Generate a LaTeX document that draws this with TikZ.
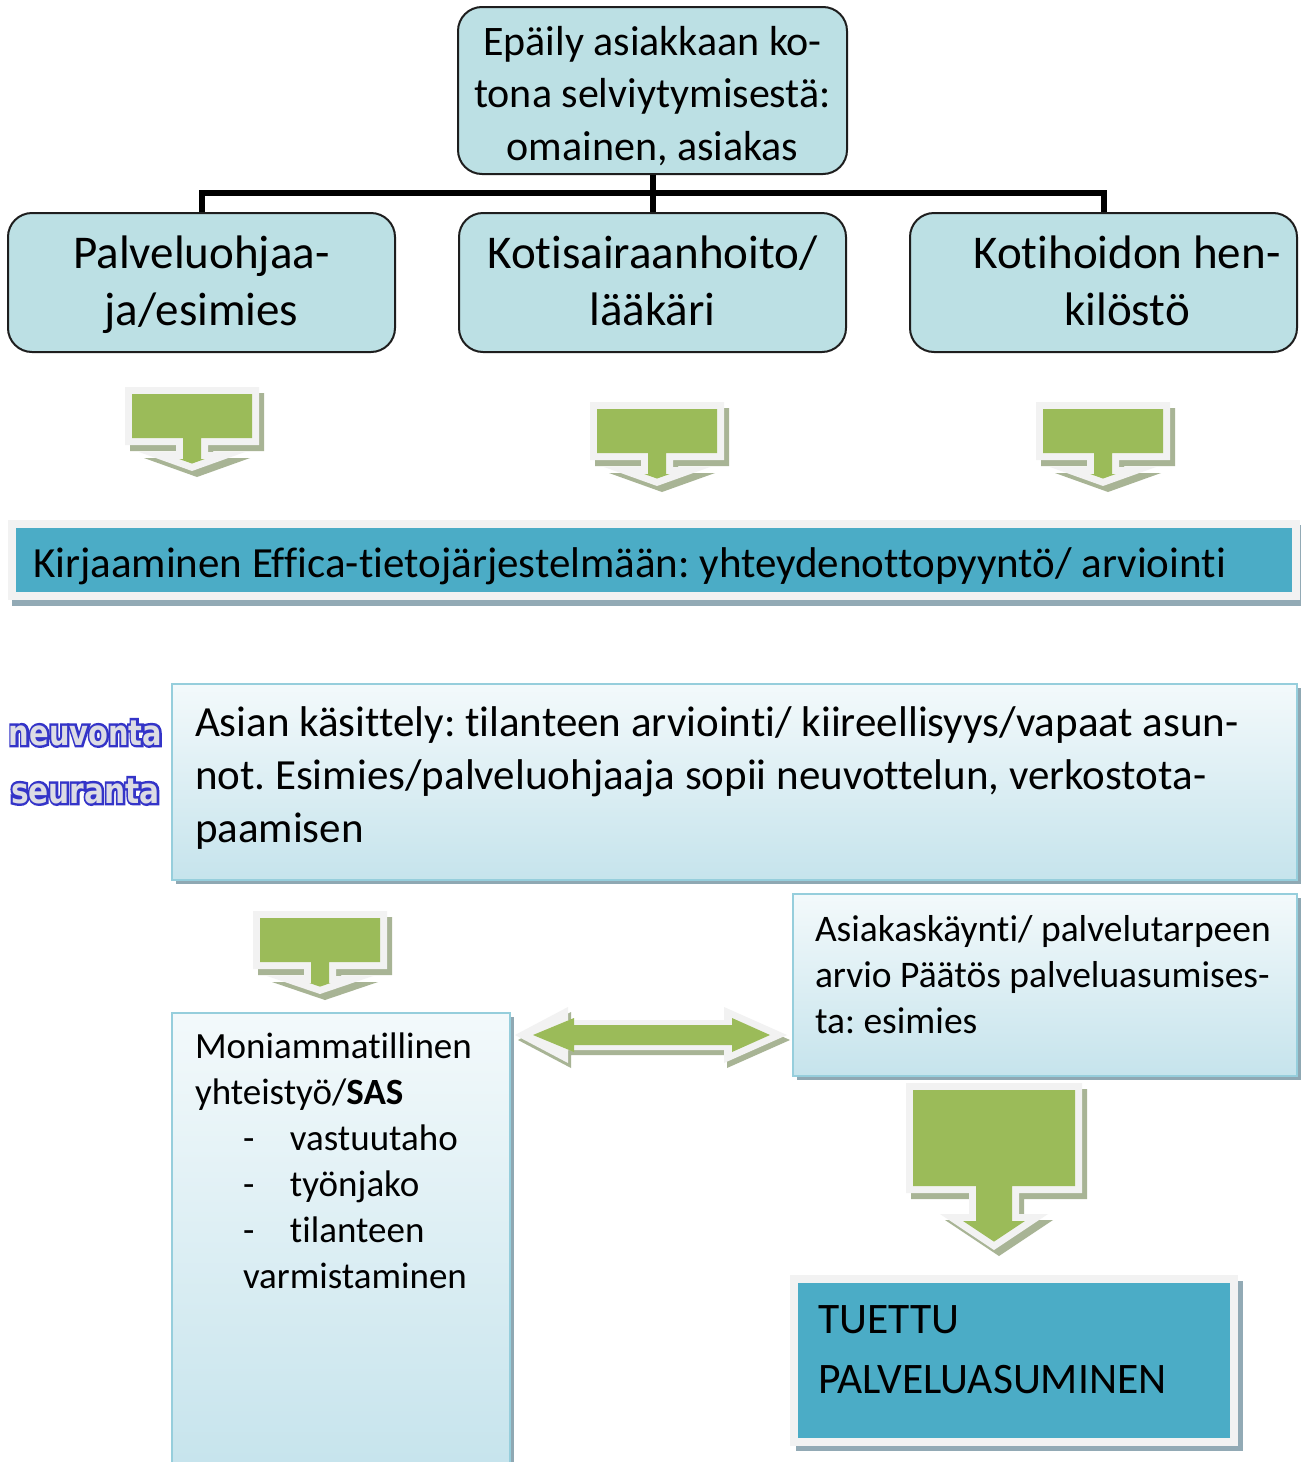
\documentclass[tikz,border=0pt]{standalone}
\usepackage{fontspec}
\setmainfont{Carlito}[Ligatures={NoCommon}]
\newfontfamily\wafont{DejaVu Sans Bold}
\newfontfamily\waout{DejaVu Sans Bold}[FakeBold=14]
\usepackage{graphicx}
\usetikzlibrary{shadows}
\definecolor{boxteal}{HTML}{BCE0E4}
\definecolor{boxedge}{HTML}{1E1E1E}
\definecolor{arrgreen}{HTML}{9BBB59}
\definecolor{greyframe}{HTML}{F2F2F2}
\definecolor{arrshadow}{HTML}{A8B495}
\definecolor{bannerblue}{HTML}{4BACC6}
\definecolor{bannershadow}{HTML}{92AAB5}
\definecolor{gradblue}{HTML}{B6DCE7}
\definecolor{gradborder}{HTML}{96CEDC}
\definecolor{boxshadow}{HTML}{8FA8B3}
\definecolor{wablue}{HTML}{3434C8}
\definecolor{wagrey}{HTML}{DCDCE4}
\pgfdeclareverticalshading{gb}{100bp}{color(0bp)=(gradblue); color(8bp)=(gradblue); color(88bp)=(white); color(100bp)=(white)}
\tikzset{
  rbox/.style={draw=boxedge, line width=2pt, fill=boxteal, rounded corners=24pt, inner sep=0pt},
  gbox/.style={draw=gradborder, line width=2pt, shade, shading=gb, inner sep=0pt,
    drop shadow={shadow xshift=4pt, shadow yshift=-4pt, fill=boxshadow, opacity=1}},
  frame/.style={draw=greyframe, line width=8pt, fill=bannerblue, inner sep=0pt},
  txt/.style={inner sep=0pt, outer sep=0pt, text=black},
  conn/.style={draw=black, line width=6pt}
}
\newcommand{\wordart}[2]{\scalebox{#1}[1.35]{\fontsize{26pt}{30pt}\selectfont
  \rlap{\color{wablue}\waout #2}{\color{wagrey}\wafont #2}}}
% block arrow: cx, W, top, rect bottom, head line, tip, stem half, head half
\newcommand{\calarrow}[8]{%
  \pgfmathsetmacro\cad{7/sin(atan(#8/(#6-#5)))}%
  \pgfmathsetmacro\cap{#6-\cad}%
  \pgfmathsetmacro\cah{(\cap-#5-7)*#8/(#6-#5)}%
  \fill[arrshadow, shift={(5,6)}] ({#1-#2},#3) -- ({#1+#2},#3) -- ({#1+#2},#4) -- ({#1+#7},#4) -- ({#1+#7},#5) -- ({#1+#8},#5) -- (#1,#6) -- ({#1-#8},#5) -- ({#1-#7},#5) -- ({#1-#7},#4) -- ({#1-#2},#4) -- cycle;
  \fill[greyframe] ({#1-#2},#3) -- ({#1+#2},#3) -- ({#1+#2},#4) -- ({#1+#7},#4) -- ({#1+#7},#5) -- ({#1+#8},#5) -- (#1,#6) -- ({#1-#8},#5) -- ({#1-#7},#5) -- ({#1-#7},#4) -- ({#1-#2},#4) -- cycle;
  \fill[arrgreen] ({#1-#2+7},{#3+7}) -- ({#1+#2-7},{#3+7}) -- ({#1+#2-7},{#4-7}) -- ({#1+#7-7},{#4-7}) -- ({#1+#7-7},{#5+7}) -- ({#1+\cah},{#5+7}) -- (#1,\cap) -- ({#1-\cah},{#5+7}) -- ({#1-#7+7},{#5+7}) -- ({#1-#7+7},{#4-7}) -- ({#1-#2+7},{#4-7}) -- cycle;
}
\frenchspacing
\begin{document}
\frenchspacing
\begin{tikzpicture}[x=1pt,y=-1pt]
\useasboundingbox[fill=white] (0,0) rectangle (1301,1462);

% top structure
\node[rbox, minimum width=389pt, minimum height=167pt] (top) at (652.5,90.5) {};
\node[rbox, minimum width=387pt, minimum height=139pt] (b1) at (201.5,282.5) {};
\node[rbox, minimum width=387pt, minimum height=139pt] (b2) at (652.5,282.5) {};
\node[rbox, minimum width=387pt, minimum height=139pt] (b3) at (1103.5,282.5) {};
\coordinate (j) at (652.5,193);
\draw[conn] (top.south) -- (b2.north);
\draw[conn] (b1.north) |- (j) -| (b3.north);

\node[txt, anchor=north, align=center, font=\fontsize{42pt}{52.5pt}\selectfont] (toptxt) at (652.5,13)
  {\rule{0pt}{42pt}Epäily asiakkaan ko-\\tona selviytymisestä:\\omainen, asiakas};
\node[txt, anchor=north, align=center, font=\fontsize{47pt}{57pt}\selectfont] (b1txt) at (201.5,221)
  {\rule{0pt}{47pt}Palveluohjaa-\\ja/esimies};
\node[txt, anchor=north, align=center, font=\fontsize{47pt}{57pt}\selectfont] (b2txt) at (652.5,221)
  {\rule{0pt}{47pt}Kotisairaanhoito/\\lääkäri};
\node[txt, anchor=north, align=center, font=\fontsize{47pt}{57pt}\selectfont] (b3txt) at (1127,221)
  {\rule{0pt}{47pt}Kotihoidon hen-\\kilöstö};

% block arrows
\calarrow{192}{67}{387}{445}{452}{471}{16}{53}
\calarrow{657}{67}{402}{460}{467}{486}{16}{53}
\calarrow{1103}{67}{402}{460}{467}{486}{16}{53}

% banner
\fill[bannershadow] (12,525) rectangle (1305,606);
\node[frame, minimum width=1284pt, minimum height=72pt] (ban) at (654,560) {};
\node[txt, anchor=base west, font=\fontsize{43pt}{50pt}\selectfont] (bantxt) at (33,577)
  {Kirjaaminen Effica-tietojärjestelmään: yhteydenottopyyntö/ arviointi};

% word art
\node[txt, anchor=base west] (neu) at (9,745) {\wordart{1.11}{neuvonta}};
\node[txt, anchor=base west] (seu) at (11,803) {\wordart{1.14}{seuranta}};

% Asian kasittely
\node[gbox, minimum width=1125pt, minimum height=196pt] (asian) at (734.5,782) {};
\node[txt, anchor=north west, align=left, font=\fontsize{43pt}{53pt}\selectfont] (asiantxt) at (195,693)
  {\rule{0pt}{43pt}Asian käsittely: tilanteen arviointi/ kiireellisyys/vapaat asun-\\not. Esimies/palveluohjaaja sopii neuvottelun, verkostota-\\paamisen};

\calarrow{320}{67}{911}{969}{976}{994}{16}{53}

% Asiakaskaynti
\node[gbox, minimum width=504pt, minimum height=182pt] (asiak) at (1045,985) {};
\node[txt, anchor=north west, align=left, font=\fontsize{37.5pt}{46pt}\selectfont] (asiaktxt) at (815,903.5)
  {\rule{0pt}{37.5pt}Asiakaskäynti/ palvelutarpeen\\arvio Päätös palveluasumises-\\ta: esimies};

% Moniammatillinen
\node[gbox, minimum width=338pt, minimum height=462pt] (moni) at (341,1244) {};
\node[txt, anchor=north west, align=left, font=\fontsize{37pt}{46pt}\selectfont] (monitxt) at (195,1021)
  {\rule{0pt}{37pt}Moniammatillinen\\yhteistyö/\textbf{SAS}\\
   \hspace*{48pt}\makebox[47pt][l]{-}vastuutaho\\
   \hspace*{48pt}\makebox[47pt][l]{-}työnjako\\
   \hspace*{48pt}\makebox[47pt][l]{-}tilanteen\\
   \hspace*{48pt}varmistaminen};

% double arrow
\fill[arrshadow, shift={(3,5)}] (515,1035) -- (568,1007) -- (568,1020) -- (724,1020) -- (724,1007) -- (787,1035) -- (724,1063) -- (724,1050) -- (568,1050) -- (568,1063) -- cycle;
\fill[greyframe] (515,1035) -- (568,1007) -- (568,1020) -- (724,1020) -- (724,1007) -- (787,1035) -- (724,1063) -- (724,1050) -- (568,1050) -- (568,1063) -- cycle;
\fill[arrgreen] (533,1035) -- (574,1018) -- (574,1025) -- (732,1025) -- (732,1018) -- (770,1035) -- (732,1052) -- (732,1045) -- (574,1045) -- (574,1052) -- cycle;

% big arrow
\calarrow{994}{88}{1083}{1193}{1214}{1250}{25}{54}

% Tuettu palveluasuminen
\fill[bannershadow] (796,1281) rectangle (1243,1451);
\node[frame, minimum width=440pt, minimum height=162.5pt] (tuettu) at (1013.5,1360.25) {};
\node[txt, anchor=north west, align=left, font=\fontsize{43.5pt}{60pt}\selectfont] (tuettutxt) at (818,1289.5)
  {\rule{0pt}{43.5pt}TUETTU\\PALVELUASUMINEN};
\end{tikzpicture}
\end{document}
